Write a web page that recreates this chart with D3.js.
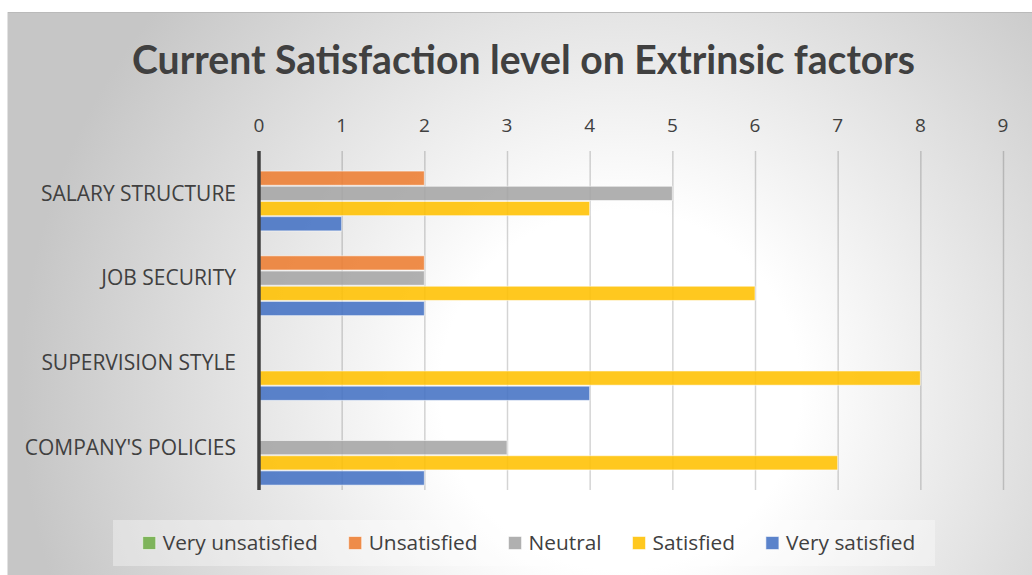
<!DOCTYPE html>
<html>
<head>
<meta charset="utf-8">
<script src="https://cdn.jsdelivr.net/npm/d3@7"></script>
<style>
  body { margin: 0; background: #fff; }
  svg { display: block; }
</style>
</head>
<body>
<script>
// chart data
let categories = ["SALARY STRUCTURE", "JOB SECURITY", "SUPERVISION STYLE", "COMPANY'S POLICIES"];
let seriesNames = ["Very unsatisfied", "Unsatisfied", "Neutral", "Satisfied", "Very satisfied"];
let veryUnsatisfied = [0, 0, 0, 0];
let unsatisfied = [2, 2, 0, 0];
let neutral = [5, 2, 0, 3];
let satisfied = [4, 6, 8, 7];
let verySatisfied = [1, 2, 4, 2];
let xTicks = [0, 1, 2, 3, 4, 5, 6, 7, 8, 9];
let colors = ["#70AD47", "#ED7D31", "#A5A5A5", "#FFC000", "#4472C4"];

let seriesValues = [veryUnsatisfied, unsatisfied, neutral, satisfied, verySatisfied];

let W = 1032, H = 575;
let svg = d3.select("body").append("svg")
  .attr("width", W)
  .attr("height", H);

// background with radial gradient
let defs = svg.append("defs");
let grad = defs.append("radialGradient")
  .attr("id", "bg")
  .attr("gradientUnits", "userSpaceOnUse")
  .attr("cx", 620).attr("cy", 390).attr("r", 600);
grad.append("stop").attr("offset", 0).attr("stop-color", "#ffffff");
grad.append("stop").attr("offset", 0.3).attr("stop-color", "#ffffff");
grad.append("stop").attr("offset", 1).attr("stop-color", "#c6c6c6");

svg.append("rect")
  .attr("x", 7).attr("y", 12)
  .attr("width", W - 7).attr("height", H - 12)
  .attr("fill", "url(#bg)");
svg.append("line")
  .attr("x1", 7).attr("x2", W).attr("y1", 12.5).attr("y2", 12.5)
  .attr("stroke", "#bababa").attr("stroke-width", 1);
svg.append("line")
  .attr("x1", 7.5).attr("x2", 7.5).attr("y1", 12).attr("y2", H)
  .attr("stroke", "#e2e2e2").attr("stroke-width", 1);

// fit a font size so a string reaches the wanted width
function fitSize(text, family, weight, target) {
  let t = svg.append("text")
    .attr("font-family", family)
    .attr("font-weight", weight)
    .attr("font-size", 100)
    .text(text);
  let w = t.node().getComputedTextLength();
  t.remove();
  return 100 * target / w;
}

// title
let titleSize = fitSize("Current Satisfaction level on Extrinsic factors", "Lato", "bold", 783);
svg.append("text")
  .attr("x", 523.5).attr("y", 74)
  .attr("text-anchor", "middle")
  .attr("font-family", "Lato")
  .attr("font-weight", "bold")
  .attr("font-size", titleSize)
  .attr("fill", "#404040")
  .text("Current Satisfaction level on Extrinsic factors");

// scales
let x = d3.scaleLinear().domain([0, 9]).range([259, 1003]);
let y0 = d3.scaleBand().domain(categories).range([151, 490])
  .paddingInner(0.103).paddingOuter(0.0515);
let y1 = d3.scaleBand().domain(seriesNames).range([0, y0.bandwidth()]);

// gridlines
svg.append("g")
  .selectAll("line")
  .data(xTicks.slice(1))
  .enter().append("line")
    .attr("x1", (d) => x(d) + 0.5).attr("x2", (d) => x(d) + 0.5)
    .attr("y1", 151).attr("y2", 490)
    .attr("stroke", "rgba(0,0,0,0.17)")
    .attr("stroke-width", 1.5);

// top axis tick labels
svg.append("g")
  .selectAll("text")
  .data(xTicks)
  .enter().append("text")
    .attr("x", (d) => x(d))
    .attr("y", 132)
    .attr("text-anchor", "middle")
    .attr("font-family", "Open Sans")
    .attr("font-size", 19)
    .attr("fill", "#404040")
    .text((d) => d);

// bars
let rows = [];
categories.forEach((c, i) => {
  seriesNames.forEach((s, j) => {
    rows.push({ cat: c, series: s, value: seriesValues[j][i], color: colors[j] });
  });
});

svg.append("g")
  .selectAll("rect")
  .data(rows.filter((d) => d.value > 0))
  .enter().append("rect")
    .attr("x", x(0))
    .attr("y", (d) => y0(d.cat) + y1(d.series) + 0.5)
    .attr("width", (d) => x(d.value) - x(0))
    .attr("height", y1.bandwidth() - 1)
    .attr("fill", (d) => d.color)
    .attr("fill-opacity", 0.88)
    .attr("stroke", "rgba(255,255,255,0.55)")
    .attr("stroke-width", 1);

// vertical axis line
svg.append("line")
  .attr("x1", x(0)).attr("x2", x(0))
  .attr("y1", 151).attr("y2", 490)
  .attr("stroke", "#404040")
  .attr("stroke-width", 3.5);

// category labels
let catSize = fitSize("SALARY STRUCTURE", "Open Sans", "normal", 195);
svg.append("g")
  .selectAll("text")
  .data(categories)
  .enter().append("text")
    .attr("x", 236)
    .attr("y", (d) => y0(d) + y0.bandwidth() / 2)
    .attr("dy", "0.35em")
    .attr("text-anchor", "end")
    .attr("font-family", "Open Sans")
    .attr("font-size", catSize)
    .attr("fill", "#404040")
    .text((d) => d);

// legend
svg.append("rect")
  .attr("x", 113).attr("y", 520)
  .attr("width", 822).attr("height", 46)
  .attr("fill", "#ffffff").attr("fill-opacity", 0.35);

let legSize = fitSize("Very unsatisfied", "Open Sans", "normal", 155);
let legend = svg.append("g");
let items = legend.selectAll("g")
  .data(seriesNames)
  .enter().append("g");
items.append("rect")
  .attr("width", 13).attr("height", 13)
  .attr("y", 536.5)
  .attr("fill", (d, i) => colors[i])
  .attr("fill-opacity", 0.88)
  .attr("stroke", "rgba(255,255,255,0.55)");
items.append("text")
  .attr("x", 19)
  .attr("y", 543)
  .attr("dy", "0.35em")
  .attr("font-family", "Open Sans")
  .attr("font-size", legSize)
  .attr("fill", "#404040")
  .text((d) => d);

let widths = [];
items.select("text").each(function () { widths.push(this.getComputedTextLength()); });
let total = d3.sum(widths, (w) => w + 20) + 31 * (widths.length - 1);
let cursor = 529 - total / 2;
items.each(function (d, i) {
  d3.select(this).select("rect").attr("x", cursor);
  d3.select(this).select("text").attr("x", cursor + 20);
  cursor += widths[i] + 20 + 31;
});
</script>
</body>
</html>
